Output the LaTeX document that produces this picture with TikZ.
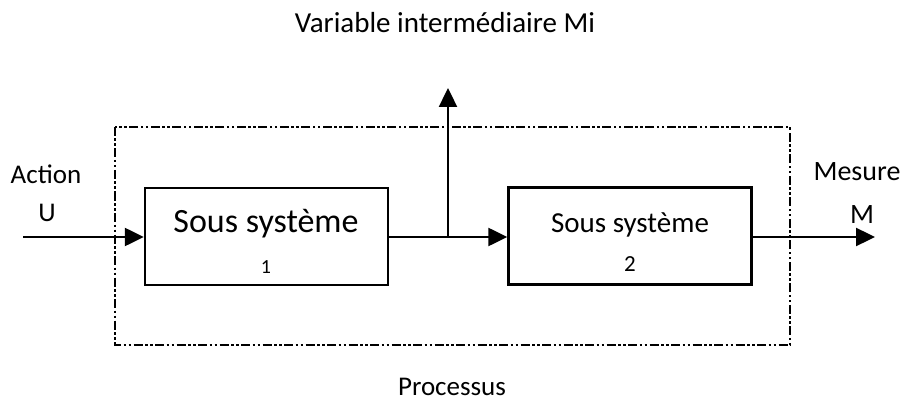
\documentclass[tikz,border=0pt]{standalone}
\usepackage{fontspec}
\setmainfont{Carlito}
\usepackage{tikz}
\usetikzlibrary{arrows.meta}
\tikzset{bloc/.style={draw, line width=2.4pt, minimum width=243pt, minimum height=97pt, inner sep=0pt},
  fleche/.style={line width=2.4pt, -{Triangle[length=19pt,width=18pt]}},
  cadre/.style={line width=2pt, dash pattern=on 9pt off 2.5pt on 2.5pt off 2.5pt on 2.5pt off 2.5pt},
  txt/.style={anchor=base, inner sep=0pt, font=\fontsize{#1}{#1}\selectfont}}

\begin{document}
\begin{tikzpicture}[x=1pt,y=-1pt]
\useasboundingbox (0,0) rectangle (908,401);
\draw[cadre] (115,127) rectangle (790,345);
\node[bloc] (ss1) at (266.5,236.5) {};
\node[bloc] (ss2) at (630,236) {};
\node[txt=34] (t1) at (266,233) {Sous système};
\node[txt=20] (n1) at (266,273) {1};
\node[txt=29] (t2) at (630,232) {Sous système};
\node[txt=23] (n2) at (630,271) {2};
\coordinate (entree) at (23,237);
\coordinate (sortie) at (875,237);
\coordinate (noeud) at (448,237);
\coordinate (haut) at (448,88);
\draw[fleche] (entree) -- (ss1.west |- entree);
\draw[fleche] (ss1.east |- entree) -- (ss2.west |- entree);
\draw[fleche] (noeud) -- (haut);
\draw[fleche] (ss2.east |- sortie) -- (sortie);
\node[txt=29] (mi) at (445,33) {Variable intermédiaire Mi};
\node[txt=27] (act) at (46,183) {Action};
\node[txt=27] (u) at (47,222) {U};
\node[txt=28] (mes) at (857,180) {Mesure};
\node[txt=28] (m) at (862,223) {M};
\node[txt=27] (proc) at (452,395) {Processus};
\end{tikzpicture}
\end{document}
